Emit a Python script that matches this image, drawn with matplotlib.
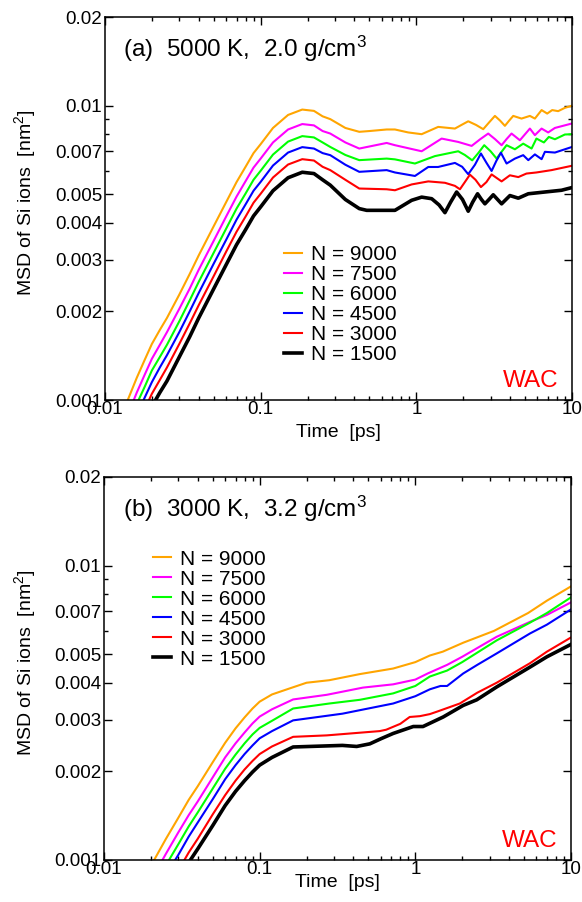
import matplotlib
matplotlib.use("Agg")
import matplotlib.pyplot as plt
from matplotlib.ticker import NullFormatter

plt.rcParams['font.family'] = ['Liberation Sans', 'DejaVu Sans']
plt.rcParams['mathtext.fontset'] = 'custom'
plt.rcParams['mathtext.rm'] = 'Liberation Sans'
plt.rcParams['mathtext.it'] = 'Liberation Sans:italic'
plt.rcParams['mathtext.bf'] = 'Liberation Sans:bold'

labels = ['N = 9000', 'N = 7500', 'N = 6000', 'N = 4500', 'N = 3000', 'N = 1500']
colors = ['#ffa500', '#ff00ff', '#00ff00', '#0000ff', '#ff0000', '#000000']
widths = [1.5, 1.5, 1.5, 1.5, 1.5, 2.6]

y_major = [0.001, 0.002, 0.003, 0.004, 0.005, 0.007, 0.01, 0.02]
y_major_lab = ['0.001', '0.002', '0.003', '0.004', '0.005', '0.007', '0.01', '0.02']
y_minor = [0.006, 0.008, 0.009]
x_major = [0.01, 0.1, 1, 10]
x_major_lab = ['0.01', '0.1', '1', '10']

# ---- panel (a): 5000 K, 2.0 g/cm3 ----
ta_early = [0.012, 0.014, 0.016, 0.018, 0.02, 0.0225, 0.025, 0.03, 0.035, 0.04,
            0.05, 0.06, 0.07, 0.08, 0.09, 0.1, 0.12, 0.15, 0.185, 0.22]

a9000_early = [0.00082, 0.001, 0.00119, 0.00137, 0.00155, 0.00173, 0.0019, 0.00228, 0.00268, 0.0031,
               0.0039, 0.0047, 0.0055, 0.0062, 0.0069, 0.0074, 0.0084, 0.0093, 0.0097, 0.0096]
a7500_early = [0.00073, 0.00089, 0.00106, 0.00122, 0.00138, 0.00154, 0.0017, 0.00204, 0.00239, 0.00277,
               0.00348, 0.0042, 0.00491, 0.00554, 0.00616, 0.00661, 0.0075, 0.0083, 0.00866, 0.00857]
a6000_early = [0.00067, 0.00081, 0.00097, 0.00111, 0.00126, 0.0014, 0.00154, 0.00185, 0.00218, 0.00252,
               0.00317, 0.00382, 0.00447, 0.00503, 0.0056, 0.00601, 0.00682, 0.00755, 0.00788, 0.0078]
a4500_early = [0.00061, 0.00075, 0.00089, 0.00102, 0.00115, 0.00129, 0.00142, 0.0017, 0.002, 0.00231,
               0.00291, 0.0035, 0.0041, 0.00462, 0.00514, 0.00551, 0.00626, 0.00693, 0.00723, 0.00715]
a3000_early = [0.00056, 0.00068, 0.00081, 0.00093, 0.00105, 0.00117, 0.00129, 0.00155, 0.00182, 0.0021,
               0.00264, 0.00319, 0.00373, 0.0042, 0.00468, 0.00502, 0.0057, 0.00631, 0.00658, 0.00651]
a1500_early = [0.0005, 0.00061, 0.00073, 0.00084, 0.00095, 0.00106, 0.00116, 0.0014, 0.00164, 0.0019,
               0.00239, 0.00288, 0.00337, 0.00379, 0.00422, 0.00453, 0.00514, 0.00569, 0.00594, 0.00588]

ta9000_late = [0.25, 0.28, 0.35, 0.43, 0.5, 0.645, 0.729, 0.887, 1.082, 1.382, 1.77, 1.95, 2.155, 2.42,
               2.69, 2.95, 3.198, 3.45, 3.707, 3.95, 4.193, 4.74, 5.365, 5.777, 6.378, 6.93, 7.46, 8.15,
               9.0, 10.0]
a9000_late = [0.0092, 0.009, 0.0084, 0.00815, 0.0082, 0.0083, 0.0083, 0.00811, 0.008, 0.00847, 0.00836,
              0.0086, 0.00885, 0.0086, 0.00832, 0.0088, 0.00923, 0.0089, 0.00854, 0.0089, 0.00923, 0.00904,
              0.00923, 0.00904, 0.00966, 0.0094, 0.00966, 0.00958, 0.00983, 0.01]
ta7500_late = [0.25, 0.28, 0.35, 0.43, 0.645, 0.729, 1.082, 1.454, 1.858, 2.266, 2.58, 2.896, 3.2, 3.53,
               3.8, 4.09, 4.628, 5.365, 5.777, 6.378, 7.03, 7.766, 10.0]
a7500_late = [0.0082, 0.00804, 0.0075, 0.00715, 0.00747, 0.00734, 0.007, 0.00773, 0.00753, 0.0073, 0.0077,
              0.00804, 0.0077, 0.00734, 0.0077, 0.00804, 0.00763, 0.00836, 0.00794, 0.00836, 0.00811,
              0.0084, 0.0087]
ta6000_late = [0.25, 0.28, 0.35, 0.43, 0.645, 0.729, 0.98, 1.317, 1.858, 2.05, 2.286, 2.5, 2.73, 3.0,
               3.28, 3.55, 3.8, 4.299, 4.86, 5.5, 5.91, 6.6, 7.1, 7.77, 9.0, 10.0]
a6000_late = [0.0075, 0.00724, 0.0068, 0.00653, 0.00661, 0.00657, 0.00636, 0.00674, 0.007, 0.0068,
              0.00652, 0.0069, 0.00734, 0.007, 0.00661, 0.007, 0.00734, 0.00711, 0.00743, 0.00715,
              0.00773, 0.0075, 0.00783, 0.00769, 0.00798, 0.008]
ta4500_late = [0.25, 0.28, 0.35, 0.43, 0.645, 0.729, 0.98, 1.193, 1.38, 1.77, 1.97, 2.155, 2.38, 2.6,
               2.82, 3.045, 3.27, 3.494, 3.8, 4.299, 4.86, 5.24, 5.777, 6.38, 6.7, 7.77, 10.0]
a4500_late = [0.0069, 0.00679, 0.0063, 0.00596, 0.00604, 0.00593, 0.00577, 0.00619, 0.00619, 0.00639,
              0.0062, 0.00585, 0.0063, 0.00688, 0.0064, 0.006, 0.0065, 0.00692, 0.00636, 0.00661,
              0.00679, 0.00653, 0.00683, 0.00658, 0.00697, 0.00693, 0.00724]
ta3000_late = [0.25, 0.28, 0.35, 0.43, 0.645, 0.729, 0.933, 1.193, 1.527, 1.77, 1.906, 2.05, 2.209, 2.4,
               2.6, 2.82, 3.045, 3.53, 3.99, 4.52, 5.1, 5.91, 7.39, 10.0]
a3000_late = [0.0062, 0.00604, 0.0056, 0.00523, 0.0052, 0.00516, 0.0054, 0.00553, 0.00547, 0.00534,
              0.0052, 0.0055, 0.00583, 0.0056, 0.00529, 0.0055, 0.00584, 0.00553, 0.0058, 0.00572,
              0.00588, 0.00593, 0.00604, 0.00625]
ta1500_late = [0.25, 0.28, 0.35, 0.43, 0.48, 0.68, 0.729, 0.933, 1.082, 1.255, 1.4, 1.527, 1.66, 1.815,
               1.98, 2.155, 2.3, 2.474, 2.62, 2.758, 2.93, 3.12, 3.53, 3.993, 4.52, 5.24, 6.697, 8.57, 10.0]
a1500_late = [0.0056, 0.00537, 0.0048, 0.00447, 0.00441, 0.00441, 0.00441, 0.00477, 0.00489, 0.00483,
              0.0046, 0.00433, 0.0047, 0.00509, 0.0048, 0.00438, 0.0047, 0.00502, 0.0048, 0.00464,
              0.0048, 0.00498, 0.00464, 0.00495, 0.00485, 0.00502, 0.00509, 0.00516, 0.00527]

# ---- panel (b): 3000 K, 3.2 g/cm3 ----
tb_early = [0.018, 0.021, 0.025, 0.03, 0.035, 0.04, 0.05, 0.06, 0.07, 0.08, 0.09, 0.1, 0.12]

b9000_early = [0.00086, 0.001, 0.00118, 0.00139, 0.0016, 0.00178, 0.00215, 0.0025, 0.0028, 0.00305, 0.00327, 0.00345, 0.00365]
b7500_early = [0.00077, 0.00089, 0.00105, 0.00124, 0.00142, 0.00158, 0.00191, 0.00223, 0.00249, 0.00271, 0.00291, 0.00307, 0.00325]
b6000_early = [0.0007, 0.00082, 0.00096, 0.00113, 0.0013, 0.00145, 0.00175, 0.00204, 0.00228, 0.00249, 0.00267, 0.00281, 0.00297]
b4500_early = [0.00065, 0.00075, 0.00089, 0.00104, 0.0012, 0.00134, 0.00161, 0.00188, 0.0021, 0.00229, 0.00245, 0.00259, 0.00274]
b3000_early = [0.00057, 0.00067, 0.00078, 0.00092, 0.00106, 0.00118, 0.00143, 0.00166, 0.00186, 0.00203, 0.00217, 0.00229, 0.00243]
b1500_early = [0.00052, 0.00061, 0.00072, 0.00085, 0.00098, 0.00109, 0.00131, 0.00153, 0.00171, 0.00186, 0.00199, 0.0021, 0.00223]

tb9000_late = [0.15, 0.2, 0.28, 0.44, 0.72, 1.0, 1.24, 1.5, 2.03, 3.2, 5.3, 7.0, 10.0]
b9000_late = [0.0038, 0.004, 0.00408, 0.00428, 0.00447, 0.0047, 0.00495, 0.0051, 0.00547, 0.006, 0.0069, 0.0076, 0.0085]
tb7500_late = [0.164, 0.27, 0.46, 0.72, 1.0, 1.2, 1.6, 2.0, 3.33, 5.45, 7.0, 10.0]
b7500_late = [0.00351, 0.00364, 0.00385, 0.00395, 0.0041, 0.0043, 0.0046, 0.0049, 0.00573, 0.00644, 0.0068, 0.0075]
tb6000_late = [0.164, 0.28, 0.44, 0.72, 1.0, 1.24, 1.6, 2.0, 3.33, 5.45, 7.0, 10.0]
b6000_late = [0.00327, 0.0034, 0.0035, 0.00368, 0.0039, 0.0042, 0.0044, 0.0047, 0.00557, 0.0064, 0.0069, 0.0078]
tb4500_late = [0.164, 0.34, 0.72, 1.0, 1.24, 1.45, 1.6, 2.03, 2.5, 3.33, 5.45, 7.0, 10.0]
b4500_late = [0.00298, 0.00314, 0.0034, 0.0036, 0.0038, 0.0039, 0.0039, 0.0043, 0.0046, 0.00503, 0.00588, 0.0063, 0.0071]
tb3000_late = [0.164, 0.27, 0.59, 0.65, 0.8, 0.92, 1.07, 1.24, 1.4, 1.93, 2.5, 3.33, 5.45, 7.0, 10.0]
b3000_late = [0.00262, 0.00265, 0.00274, 0.00277, 0.0029, 0.00306, 0.00308, 0.00313, 0.0032, 0.0034, 0.0037, 0.004, 0.00466, 0.0051, 0.0057]
tb1500_late = [0.164, 0.34, 0.42, 0.51, 0.6, 0.72, 0.97, 1.12, 1.51, 2.03, 2.48, 3.33, 5.45, 7.0, 10.0]
b1500_late = [0.00242, 0.00245, 0.00243, 0.00248, 0.00258, 0.00269, 0.00284, 0.00284, 0.00306, 0.00335, 0.0035, 0.00387, 0.00452, 0.0049, 0.0054]

panel_a = [
    (ta_early + ta9000_late, a9000_early + a9000_late),
    (ta_early + ta7500_late, a7500_early + a7500_late),
    (ta_early + ta6000_late, a6000_early + a6000_late),
    (ta_early + ta4500_late, a4500_early + a4500_late),
    (ta_early + ta3000_late, a3000_early + a3000_late),
    (ta_early + ta1500_late, a1500_early + a1500_late),
]
panel_b = [
    (tb_early + tb9000_late, b9000_early + b9000_late),
    (tb_early + tb7500_late, b7500_early + b7500_late),
    (tb_early + tb6000_late, b6000_early + b6000_late),
    (tb_early + tb4500_late, b4500_early + b4500_late),
    (tb_early + tb3000_late, b3000_early + b3000_late),
    (tb_early + tb1500_late, b1500_early + b1500_late),
]


def draw_panel(ax, series, title, title_x, leg_xy, ylab_x, xlab_pad):
    for (t, m), lab, c, lw in zip(series, labels, colors, widths):
        ax.plot(t, m, color=c, lw=lw, label=lab, solid_joinstyle='round')
    ax.set_xscale('log')
    ax.set_yscale('log')
    ax.set_xlim(0.01, 10)
    ax.set_ylim(0.001, 0.02)
    ax.set_xticks(x_major, labels=x_major_lab)
    ax.set_xticks([k * d for d in (0.01, 0.1, 1) for k in range(2, 10)], minor=True)
    ax.set_yticks(y_major, labels=y_major_lab)
    ax.set_yticks(y_minor, minor=True)
    ax.xaxis.set_minor_formatter(NullFormatter())
    ax.yaxis.set_minor_formatter(NullFormatter())
    ax.tick_params(which='both', direction='in', top=True, right=True, width=1.0, labelsize=13.5)
    ax.tick_params(which='major', length=6)
    ax.tick_params(which='minor', length=3)
    ax.tick_params(axis='x', pad=1)
    ax.tick_params(axis='y', pad=2)
    for s in ax.spines.values():
        s.set_linewidth(1.1)
    ax.set_xlabel('Time  [ps]', fontsize=14, labelpad=xlab_pad)
    ax.set_ylabel('MSD of Si ions  [nm$^2$]', fontsize=14)
    ax.yaxis.set_label_coords(ylab_x, 0.515)
    ax.text(title_x, 0.896, title, fontsize=17.5, transform=ax.transAxes, va='baseline')
    ax.text(0.9707, 0.0347, 'WAC', color='red', fontsize=17.5, transform=ax.transAxes,
            ha='right', va='baseline')
    ax.legend(loc='center left', bbox_to_anchor=leg_xy, frameon=False, fontsize=15,
              handlelength=0.85, handletextpad=0.43, labelspacing=0.05,
              borderpad=0, borderaxespad=0)


fig = plt.figure(figsize=(5.82, 9.02), dpi=100)
ax1 = fig.add_axes([0.1804, 0.5565, 0.8024, 0.4246])
ax2 = fig.add_axes([0.1787, 0.0466, 0.8024, 0.4246])

draw_panel(ax1, panel_a, '(a)  5000 K,  2.0 g/cm$^3$', 0.0385, (0.383, 0.249), -0.1445, 3.9)
draw_panel(ax2, panel_b, '(b)  3000 K,  3.2 g/cm$^3$', 0.040, (0.1056, 0.655), -0.1424, -3.0)

fig.savefig('out.png', dpi=100)
